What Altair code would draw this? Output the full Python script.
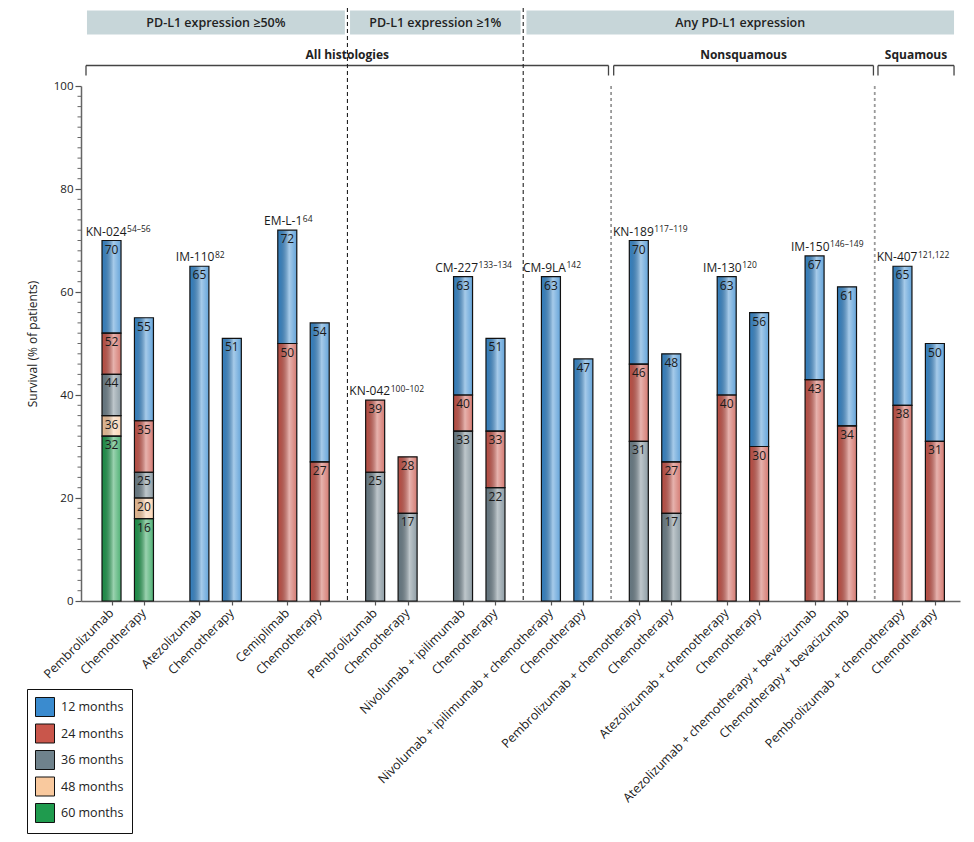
import altair as alt
import pandas as pd

# ---------------- data ----------------
studies = ["KN-024", "IM-110", "EM-L-1", "KN-042", "CM-227",
           "CM-9LA", "KN-189", "IM-130", "IM-150", "KN-407"]
refs = ["54–56", "82", "64", "100–102", "133–134",
        "142", "117–119", "120", "146–149", "121,122"]
arms = ["Pembrolizumab", "Chemotherapy",
        "Atezolizumab", "Chemotherapy",
        "Cemiplimab", "Chemotherapy",
        "Pembrolizumab", "Chemotherapy",
        "Nivolumab + ipilimumab", "Chemotherapy",
        "Nivolumab + ipilimumab + chemotherapy", "Chemotherapy",
        "Pembrolizumab + chemotherapy", "Chemotherapy",
        "Atezolizumab + chemotherapy", "Chemotherapy",
        "Atezolizumab + chemotherapy + bevacizumab", "Chemotherapy + bevacizumab",
        "Pembrolizumab + chemotherapy", "Chemotherapy"]
series_names = ["12 months", "24 months", "36 months", "48 months", "60 months"]
s12 = [70, 55, 65, 51, 72, 54, None, None, 63, 51, 63, 47, 70, 48, 63, 56, 67, 61, 65, 50]
s24 = [52, 35, None, None, 50, 27, 39, 28, 40, 33, None, None, 46, 27, 40, 30, 43, 34, 38, 31]
s36 = [44, 25, None, None, None, None, 25, 17, 33, 22, None, None, 31, 17, None, None, None, None, None, None]
s48 = [36, 20] + [None] * 18
s60 = [32, 16] + [None] * 18
series_colors = ["#3a8bcf", "#c9564b", "#6f828c", "#f9c99e", "#1f9b4e"]

header_labels = ["PD-L1 expression ≥50%", "PD-L1 expression ≥1%", "Any PD-L1 expression"]
bracket_labels = ["All histologies", "Nonsquamous", "Squamous"]
y_ticks = [0, 20, 40, 60, 80, 100]

# ---------------- layout helpers ----------------
W, H = 879, 515
PITCH = 2.71
LO, HI = -0.787, 26.01


def bar_pos(i):
    return (i // 2) * PITCH + (i % 2)


def sep(k):  # midpoint after pair k
    return k * PITCH + 1 + (PITCH - 1) / 2


rows = []
for i in range(len(arms)):
    vals = [(n, s[i]) for n, s in zip(series_names, [s12, s24, s36, s48, s60]) if s[i] is not None]
    for j, (n, v) in enumerate(vals):
        bottom = vals[j + 1][1] if j + 1 < len(vals) else 0
        rows.append(dict(pos=bar_pos(i), arm=arms[i], series=n, top=v, bottom=bottom, label=str(v)))
bars = pd.DataFrame(rows)

study_df = pd.DataFrame(dict(
    pos=[bar_pos(2 * k) for k in range(len(studies))],
    top=[max(v for v in (s12[2 * k], s24[2 * k], s36[2 * k]) if v is not None) for k in range(len(studies))],
    study=studies, ref=refs))

ticklab_df = pd.DataFrame(dict(pos=[bar_pos(i) for i in range(len(arms))], arm=arms))

black_sep = pd.DataFrame(dict(pos=[sep(2), sep(4)]))
gray_sep = pd.DataFrame(dict(pos=[sep(5), sep(8)]))

hdr_start = [LO + 0.03, sep(2) + 0.08, sep(4) + 0.1]
hdr_end = [sep(2) - 0.08, sep(4) - 0.08, HI - 0.03]
headers = pd.DataFrame(dict(pos=hdr_start, pos2=hdr_end, text=header_labels,
                            mid=[(a + b) / 2 for a, b in zip(hdr_start, hdr_end)]))

br_start = [LO, sep(5) + 0.08, sep(8) + 0.1]
br_end = [sep(5) - 0.08, sep(8) - 0.04, HI - 0.03]
brackets = pd.DataFrame(dict(pos=br_start, pos2=br_end, text=bracket_labels,
                             mid=[(a + b) / 2 for a, b in zip(br_start, br_end)]))
br_ends = pd.DataFrame(dict(pos=br_start + br_end))

minor_df = pd.DataFrame(dict(top=[v for v in range(0, 101, 2) if v % 20 != 0]))

# ---------------- scales / axes ----------------
xscale = alt.Scale(domain=[LO, HI], nice=False, zero=False)
yscale = alt.Scale(domain=[0, 100], nice=False)
xaxis = alt.Axis(values=[bar_pos(i) for i in range(len(arms))], labels=False, ticks=True,
                 tickSize=4, tickColor="#555", tickWidth=1.2, domainColor="#666",
                 domainWidth=1.5, grid=False, title=None)
yaxis = alt.Axis(values=y_ticks, tickSize=6, tickColor="#555", tickWidth=1.2,
                 domainColor="#666", domainWidth=1.5, grid=False, labelFontSize=11.5,
                 labelColor="#222", labelPadding=2, title="Survival (% of patients)",
                 titleFontSize=12, titleFontWeight="normal", titleColor="#222",
                 titlePadding=14)


def X(field):
    return alt.X(field, type="quantitative", scale=xscale, axis=xaxis)


def Y(field):
    return alt.Y(field, type="quantitative", scale=yscale, axis=yaxis)


base = alt.Chart(bars)

fill_layer = base.mark_bar(size=19, stroke=None).encode(
    x=X("pos"), y=Y("top"), y2="bottom",
    color=alt.Color("series:N",
                    scale=alt.Scale(domain=series_names, range=series_colors),
                    legend=alt.Legend(orient="none", legendX=-54, legendY=603, title=None,
                                      direction="vertical", strokeColor="#111",
                                      fillColor="white", padding=8, symbolType="square",
                                      symbolSize=361, symbolStrokeColor="#111",
                                      symbolStrokeWidth=1, symbolOpacity=1,
                                      labelFontSize=12.5, labelColor="#222",
                                      rowPadding=2.5, labelOffset=6,
                                      labelExpr="datum.label + '\u00a0\u00a0\u00a0\u00a0\u00a0\u00a0\u00a0\u00a0\u00a0'")))

shine = alt.Gradient(gradient="linear", x1=0, x2=1, y1=0, y2=0, stops=[
    alt.GradientStop(color="rgba(0,0,0,0.06)", offset=0),
    alt.GradientStop(color="rgba(255,255,255,0.55)", offset=0.6),
    alt.GradientStop(color="rgba(255,255,255,0.22)", offset=1)])
shine_layer = base.mark_bar(size=19, fill=shine, stroke=None).encode(
    x=X("pos"), y=Y("top"), y2="bottom")

stroke_layer = base.mark_bar(size=19, fillOpacity=0, fill="white", stroke="#111",
                             strokeWidth=1.2).encode(x=X("pos"), y=Y("top"), y2="bottom")

value_labels = base.mark_text(dy=9, fontSize=12, color="#1a1a1a", baseline="middle").encode(
    x=X("pos"), y=Y("top"), text="label")

study_main = alt.Chart(study_df).mark_text(align="right", baseline="alphabetic", dx=15, dy=-5,
                                           fontSize=12, color="#1a1a1a").encode(
    x=X("pos"), y=Y("top"), text="study")
study_sup = alt.Chart(study_df).mark_text(align="left", baseline="alphabetic", dx=15.5, dy=-8.5,
                                          fontSize=8.5, color="#1a1a1a").encode(
    x=X("pos"), y=Y("top"), text="ref")

tick_labels = alt.Chart(ticklab_df).mark_text(angle=315, align="right", baseline="middle",
                                              fontSize=12.5, color="#1a1a1a").encode(
    x=X("pos"), y=alt.value(H + 10), text="arm")

black_rules = alt.Chart(black_sep).mark_rule(color="#222", strokeWidth=1.1, strokeDash=[4, 3]).encode(
    x=X("pos"), y=alt.value(-85), y2=alt.value(H))
gray_rules = alt.Chart(gray_sep).mark_rule(color="#999", strokeWidth=1.8, strokeDash=[3, 3]).encode(
    x=X("pos"), y=alt.value(0), y2=alt.value(H))

hdr_rects = alt.Chart(headers).mark_rect(color="#c7d6d9").encode(
    x=X("pos"), x2="pos2", y=alt.value(-75.5), y2=alt.value(-51.5))
hdr_text = alt.Chart(headers).mark_text(fontSize=12.5, fontWeight=600, color="#222",
                                        baseline="middle").encode(
    x=X("mid"), y=alt.value(-63.5), text="text")

br_h = alt.Chart(brackets).mark_rule(color="#444", strokeWidth=1.3).encode(
    x=X("pos"), x2="pos2", y=alt.value(-20.5))
br_v = alt.Chart(br_ends).mark_rule(color="#444", strokeWidth=1.3).encode(
    x=X("pos"), y=alt.value(-20.5), y2=alt.value(-10.5))
br_text = alt.Chart(brackets).mark_text(fontSize=12, fontWeight="bold", color="#222",
                                        baseline="middle").encode(
    x=X("mid"), y=alt.value(-31.5), text="text")

minor = alt.Chart(minor_df).mark_rule(color="#666", strokeWidth=1).encode(
    y=Y("top"), x=alt.value(-3.5), x2=alt.value(0))

chart = alt.layer(
    hdr_rects, hdr_text, br_h, br_v, br_text, gray_rules, black_rules,
    fill_layer, shine_layer, stroke_layer, value_labels, study_main, study_sup,
    tick_labels, minor
).properties(
    width=W, height=H,
    autosize=alt.AutoSizeParams(type="none"),
    padding={"left": 73, "top": 78, "right": 6, "bottom": 236}
).configure(font="Open Sans").configure_view(stroke=None)

chart.save("out.html", embed_options={"renderer": "svg", "actions": False})
